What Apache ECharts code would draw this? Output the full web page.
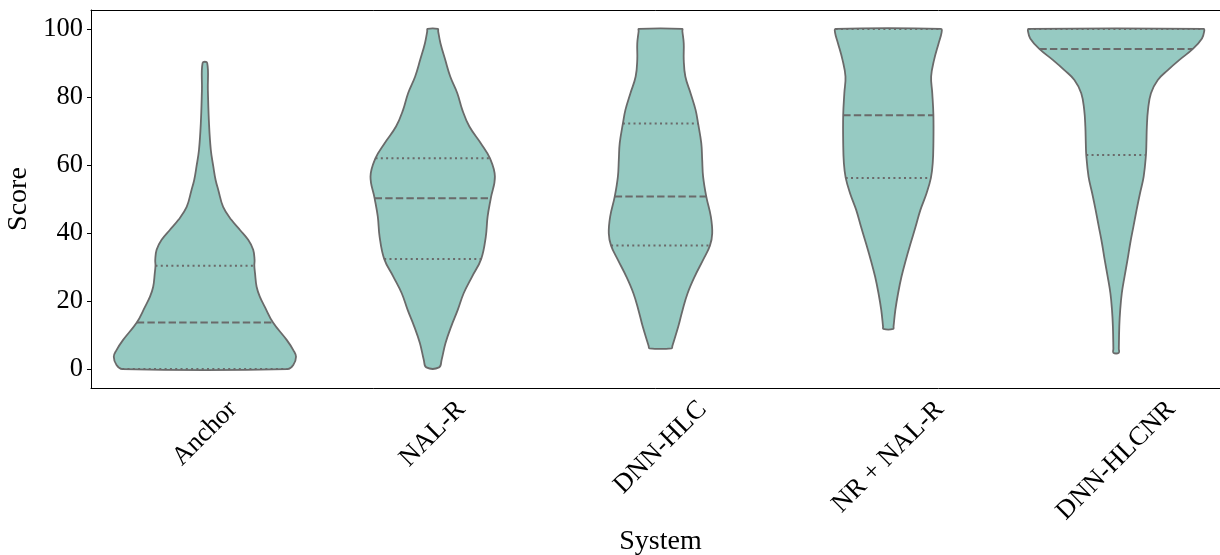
<!DOCTYPE html>
<html>
<head>
<meta charset="utf-8">
<script src="https://cdn.jsdelivr.net/npm/echarts@6/dist/echarts.min.js"></script>
<style>
  html, body { margin: 0; padding: 0; background: #ffffff; }
  #chart { width: 1220px; height: 555px; }
</style>
</head>
<body>
<div id="chart"></div>
<script>
// Systems on the x axis
const systems = ['Anchor', 'NAL-R', 'DNN-HLC', 'NR + NAL-R', 'DNN-HLCNR'];
const yTicks = [0, 20, 40, 60, 80, 100];

// Density outlines per system: [score, half-width as a fraction of one category band]
const anchorShape = [
  [0, 0.363], [1.2, 0.388], [3.6, 0.400], [5.6, 0.388], [8.6, 0.359], [13.7, 0.299],
  [18.3, 0.263], [21.3, 0.241], [24.2, 0.227], [28.2, 0.220], [30.4, 0.217], [32.1, 0.218],
  [35.1, 0.212], [38, 0.190], [40.9, 0.154], [43.8, 0.117], [47.7, 0.080], [52.6, 0.059],
  [55.6, 0.047], [59.5, 0.037], [64.4, 0.026], [72.2, 0.018], [82, 0.013], [90, 0.010]
];
const nalrShape = [
  [0.5, 0.028], [2.7, 0.039], [7.6, 0.056], [12.5, 0.081], [17.4, 0.110], [22.3, 0.136],
  [27.2, 0.173], [32.4, 0.213], [38.9, 0.233], [44.8, 0.241], [50.2, 0.255], [56.6, 0.273],
  [62, 0.251], [66.4, 0.211], [71.3, 0.161], [76.2, 0.130], [81.1, 0.108], [86, 0.077],
  [90.9, 0.055], [95.8, 0.034], [99.3, 0.024], [100, 0.023]
];
const dnnHlcShape = [
  [6.1, 0.049], [6.8, 0.052], [12.5, 0.078], [17.4, 0.097], [22.3, 0.119], [27.2, 0.150], [32.1, 0.187],
  [36.3, 0.217], [39.9, 0.227], [44.8, 0.221], [50.7, 0.201], [56.6, 0.187], [61.5, 0.183],
  [66.4, 0.179], [72.2, 0.165], [76.2, 0.154], [81.1, 0.132], [86, 0.109], [90.9, 0.102],
  [95.8, 0.102], [99.3, 0.096], [100, 0.095]
];
const nrNalrShape = [
  [11.8, 0.022], [12.5, 0.023], [17.4, 0.031], [22.3, 0.043], [27.2, 0.058], [32.1, 0.077], [37, 0.098],
  [41.9, 0.120], [46.8, 0.141], [51.7, 0.168], [56.2, 0.187], [60.5, 0.195], [66.4, 0.198],
  [74.6, 0.198], [81.1, 0.193], [86, 0.188], [90.9, 0.201], [95.8, 0.221], [99, 0.234],
  [100, 0.231]
];
const dnnHlcnrShape = [
  [4.8, 0.012], [6, 0.012], [12.5, 0.014], [17.4, 0.018], [22.3, 0.025], [27.2, 0.037], [32.1, 0.050],
  [37, 0.062], [41.9, 0.076], [46.8, 0.090], [51.7, 0.105], [56.6, 0.121], [62.9, 0.131],
  [66.4, 0.133], [71.3, 0.135], [76.2, 0.140], [81.1, 0.153], [85, 0.183], [87.9, 0.227],
  [90.9, 0.278], [94.1, 0.337], [97.2, 0.377], [99.4, 0.387], [100, 0.384]
];
const shapes = [anchorShape, nalrShape, dnnHlcShape, nrNalrShape, dnnHlcnrShape];

// Quartiles per system
const q1Values = [0, 32.4, 36.3, 56.2, 62.9];
const medianValues = [13.7, 50.2, 50.7, 74.6, 94.1];
const q3Values = [30.4, 62, 72.2, 100, 100];

const Y_MIN = -5.55, Y_MAX = 105.55;
const FILL = '#96cac2';
const EDGE = '#6a6a6a';
const SPINE = '#000';
const FONT = '"Liberation Serif", "Times New Roman", serif';
const TICK_FONT_SIZE = 26.5;
const NAME_FONT_SIZE = 28;

function halfWidthAt(shape, v) {
  if (v <= shape[0][0]) return shape[0][1];
  for (let k = 1; k < shape.length; k++) {
    const a = shape[k - 1], b = shape[k];
    if (v <= b[0]) return a[1] + (b[1] - a[1]) * (v - a[0]) / (b[0] - a[0]);
  }
  return shape[shape.length - 1][1];
}

// Mirrored, smoothed outline plus the three quartile lines
function renderViolin(params, api) {
  const i = api.value(0);
  const shape = shapes[i];
  const band = api.size([1, 0])[0];
  const right = [], left = [];
  shape.forEach(function (p) {
    const c = api.coord([i, p[0]]);
    right.push([c[0] + p[1] * band, c[1]]);
    left.push([c[0] - p[1] * band, c[1]]);
  });
  const points = right.concat(left.reverse());
  const children = [{
    type: 'polygon',
    shape: { points: points, smooth: 0.4 },
    style: { fill: FILL, stroke: EDGE, lineWidth: 1.8, lineJoin: 'round' }
  }];
  const lines = [
    [q1Values[i], [2, 3.3]],
    [medianValues[i], [7.4, 3.2]],
    [q3Values[i], [2, 3.3]]
  ];
  lines.forEach(function (q) {
    const c = api.coord([i, q[0]]);
    const w = halfWidthAt(shape, q[0]) * band;
    children.push({
      type: 'line',
      shape: { x1: c[0] - w, y1: c[1], x2: c[0] + w, y2: c[1] },
      style: { stroke: EDGE, lineWidth: 2, lineDash: q[1] }
    });
  });
  return { type: 'group', children: children };
}

// Rotated category labels: centred under each tick, top of the rotated box just below the axis
const measureCtx = document.createElement('canvas').getContext('2d');
measureCtx.font = TICK_FONT_SIZE + 'px ' + FONT;
function renderCategoryLabel(params, api) {
  const i = api.value(0);
  const c = api.coord([i, Y_MIN]);
  const text = systems[i];
  const textW = measureCtx.measureText(text).width;
  const textH = TICK_FONT_SIZE * 1.107;
  const boxH = (textW + textH) / Math.SQRT2;
  return {
    type: 'text',
    x: c[0],
    y: c[1] + 7 + boxH / 2,
    rotation: Math.PI / 4,
    style: {
      text: text,
      align: 'center',
      verticalAlign: 'middle',
      font: TICK_FONT_SIZE + 'px ' + FONT,
      fill: '#000'
    }
  };
}

const chart = echarts.init(document.getElementById('chart'), null, { renderer: 'canvas' });
chart.setOption({
  animation: false,
  backgroundColor: '#ffffff',
  grid: {
    left: 91, top: 10, width: 1139, bottom: 167,
    containLabel: false,
    outerBoundsMode: 'none',
    show: false
  },
  xAxis: [
    {
      type: 'category',
      data: systems,
      boundaryGap: true,
      position: 'bottom',
      name: 'System',
      nameLocation: 'middle',
      nameGap: 140,
      nameTextStyle: { fontFamily: FONT, fontSize: NAME_FONT_SIZE, color: '#000' },
      axisLine: { onZero: false, lineStyle: { color: SPINE, width: 1 } },
      axisTick: { alignWithLabel: true, length: 4, lineStyle: { color: SPINE } },
      axisLabel: { show: false },
      splitLine: { show: false }
    },
    {
      // top spine only
      type: 'category',
      data: systems,
      position: 'top',
      axisLine: { onZero: false, lineStyle: { color: SPINE, width: 1 } },
      axisTick: { show: false },
      axisLabel: { show: false },
      splitLine: { show: false }
    }
  ],
  yAxis: {
    type: 'value',
    min: Y_MIN,
    max: Y_MAX,
    name: 'Score',
    nameLocation: 'middle',
    nameRotate: 90,
    nameGap: 53,
    nameTextStyle: { fontFamily: FONT, fontSize: NAME_FONT_SIZE, color: '#000' },
    axisLine: { show: true, onZero: false, lineStyle: { color: SPINE, width: 1 } },
    axisTick: { show: true, length: 4, customValues: yTicks, lineStyle: { color: SPINE } },
    axisLabel: {
      customValues: yTicks,
      margin: 8,
      fontFamily: FONT,
      fontSize: TICK_FONT_SIZE,
      color: '#000'
    },
    splitLine: { show: false }
  },
  series: [
    {
      type: 'custom',
      name: 'violins',
      clip: false,
      silent: true,
      renderItem: renderViolin,
      data: systems.map(function (s, i) { return [i]; }),
      encode: { x: 0 }
    },
    {
      type: 'custom',
      name: 'category labels',
      clip: false,
      silent: true,
      renderItem: renderCategoryLabel,
      data: systems.map(function (s, i) { return [i, Y_MIN]; }),
      encode: { x: 0, y: 1 }
    }
  ]
});
</script>
</body>
</html>
